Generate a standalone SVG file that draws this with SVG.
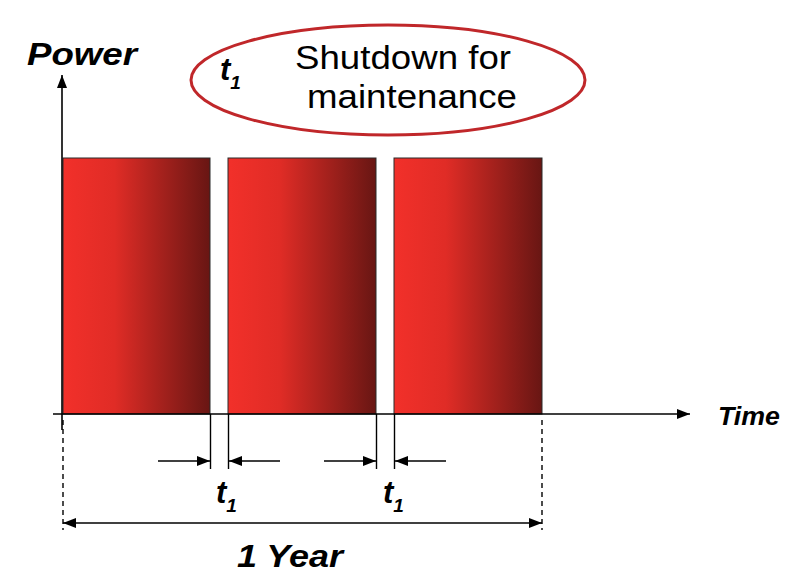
<svg xmlns="http://www.w3.org/2000/svg" width="790" height="574" viewBox="0 0 790 574">
  <defs>
    <linearGradient id="barFill" x1="0" y1="0" x2="1" y2="0">
      <stop offset="0" stop-color="#f2302a"/>
      <stop offset="0.35" stop-color="#e02c26"/>
      <stop offset="1" stop-color="#681613"/>
    </linearGradient>
    <marker id="tip" viewBox="0 0 13 10" refX="13" refY="5" markerWidth="13" markerHeight="10" markerUnits="userSpaceOnUse" orient="auto-start-reverse">
      <path d="M0,0 L13,5 L0,10 Z" fill="#000"/>
    </marker>
  </defs>
  <style>
    .bar { fill: url(#barFill); stroke: #2a2a2a; stroke-width: 1; }
    .line { stroke: #000; stroke-width: 1.6; fill: none; }
    .ext { stroke: #000; stroke-width: 1.4; fill: none; }
    .dash { stroke: #000; stroke-width: 1.4; stroke-dasharray: 5 4; fill: none; }
    .lbl { font-family: "Liberation Sans", Arial, sans-serif; font-weight: bold; font-style: italic; fill: #000; }
    .note { font-family: "Liberation Sans", Arial, sans-serif; font-size: 33px; fill: #000; }
  </style>

  <rect width="790" height="574" fill="#fff"/>

  <!-- operating periods -->
  <g id="period1"><rect class="bar" x="63" y="158" width="147" height="256"/></g>
  <g id="period2"><rect class="bar" x="228" y="158" width="148" height="256"/></g>
  <g id="period3"><rect class="bar" x="394" y="158" width="148" height="256"/></g>

  <!-- axes, extension lines and dimension arrows -->
  <g id="connectors">
    <line class="line" x1="62" y1="430" x2="62" y2="75" marker-end="url(#tip)"/>
    <line class="line" x1="53" y1="414" x2="690" y2="414" marker-end="url(#tip)"/>

    <line class="ext" x1="210.5" y1="414" x2="210.5" y2="469"/>
    <line class="ext" x1="228.5" y1="414" x2="228.5" y2="469"/>
    <line class="ext" x1="376.5" y1="414" x2="376.5" y2="469"/>
    <line class="ext" x1="394.5" y1="414" x2="394.5" y2="469"/>

    <line class="line" x1="158" y1="461" x2="210" y2="461" marker-end="url(#tip)"/>
    <line class="line" x1="280" y1="461" x2="229" y2="461" marker-end="url(#tip)"/>
    <line class="line" x1="324" y1="461" x2="376" y2="461" marker-end="url(#tip)"/>
    <line class="line" x1="446" y1="461" x2="395" y2="461" marker-end="url(#tip)"/>

    <line class="dash" x1="63" y1="420" x2="63" y2="530"/>
    <line class="dash" x1="542" y1="420" x2="542" y2="530"/>
    <line class="line" x1="63" y1="523" x2="542" y2="523" marker-start="url(#tip)" marker-end="url(#tip)"/>
  </g>

  <!-- axis labels -->
  <g id="power-label"><text class="lbl" x="27" y="65" font-size="32" textLength="110" lengthAdjust="spacingAndGlyphs">Power</text></g>
  <g id="time-label"><text class="lbl" x="718" y="425" font-size="25" textLength="62" lengthAdjust="spacingAndGlyphs">Time</text></g>

  <!-- gap labels -->
  <g id="gap1-label"><text class="lbl" x="216" y="503" font-size="31">t<tspan font-size="19" dy="9">1</tspan></text></g>
  <g id="gap2-label"><text class="lbl" x="383" y="503" font-size="31">t<tspan font-size="19" dy="9">1</tspan></text></g>

  <!-- span label -->
  <g id="year-label"><text class="lbl" x="237" y="567" font-size="31" textLength="106" lengthAdjust="spacingAndGlyphs">1 Year</text></g>

  <!-- legend -->
  <g id="legend">
    <ellipse cx="388" cy="80" rx="197" ry="55" fill="#fff" stroke="#c0272a" stroke-width="3"/>
    <text class="lbl" x="220" y="80" font-size="31">t<tspan font-size="19" dy="9">1</tspan></text>
    <text class="note" x="295" y="69" textLength="216" lengthAdjust="spacingAndGlyphs">Shutdown for</text>
    <text class="note" x="307" y="108" textLength="210" lengthAdjust="spacingAndGlyphs">maintenance</text>
  </g>
</svg>
